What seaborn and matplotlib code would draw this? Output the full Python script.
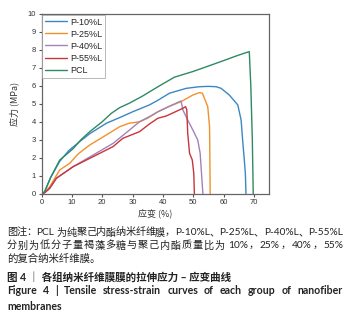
import matplotlib
matplotlib.use("Agg")
import matplotlib.pyplot as plt
import pandas as pd
import seaborn as sb

# stress-strain curves
names = ["P-10%L", "P-25%L", "P-40%L", "P-55%L", "PCL"]
colors = ["#3b87c4", "#f0922b", "#a283b8", "#c8353b", "#2e8a62"]

x_10 = [0, 1, 3, 6, 9, 12.6, 16, 21.4, 26, 30.1, 35.6, 38.4, 42.2, 47.7, 52, 55,
        57.6, 59.2, 61.9, 64.7, 65.8, 66.3, 66.8, 67.2, 67.4]
y_10 = [0, 0.1, 0.9, 1.8, 2.4, 2.9, 3.35, 3.92, 4.25, 4.56, 4.94, 5.2, 5.59, 5.86,
        5.95, 5.97, 5.95, 5.86, 5.49, 4.94, 4.1, 2.99, 2.0, 1.13, 0]

x_25 = [0, 1, 2.7, 6, 9.3, 12, 15.9, 21.4, 25.8, 28.9, 32.3, 35, 38.4, 42, 46,
        49.9, 52, 53, 53.7, 54.8, 55.4, 55.5, 55.6]
y_25 = [0, 0.05, 0.39, 1.32, 1.69, 2.2, 2.71, 3.27, 3.73, 3.92, 4.0, 4.2, 4.56,
        4.85, 5.12, 5.49, 5.62, 5.6, 5.31, 4.84, 3.73, 2.0, 0]

x_40 = [0, 1, 2.7, 4.9, 10.4, 17, 23.6, 29, 32.3, 35.6, 38.4, 42, 46, 46.6, 48.2,
        49.9, 51.5, 52.3, 52.6, 53.2]
y_40 = [0, 0.05, 0.3, 0.86, 1.5, 2.15, 2.8, 3.54, 4.0, 4.29, 4.56, 4.85, 5.16,
        4.66, 4.1, 3.54, 2.99, 2.25, 1.5, 0]

x_55 = [0, 1, 2.7, 4.9, 10.4, 17, 23.6, 26.8, 32.3, 35.6, 38.4, 41.1, 46.6, 47.5,
        47.9, 48.2, 48.8, 49.7, 50.2, 50.4]
y_55 = [0, 0.05, 0.3, 0.86, 1.5, 2.06, 2.62, 3.08, 3.45, 3.88, 4.2, 4.32, 4.75,
        4.84, 4.66, 3.36, 2.25, 1.88, 1.13, 0]

x_pcl = [0, 1, 3, 6, 10.4, 13, 15.9, 20, 23, 25.8, 28.9, 33, 38.4, 43.8, 50, 55,
         60, 64, 67.5, 68.5, 69, 69.5, 69.8]
y_pcl = [0, 0.1, 0.9, 1.87, 2.5, 3.0, 3.45, 4.0, 4.47, 4.79, 5.03, 5.4, 5.95,
         6.48, 6.8, 7.1, 7.4, 7.65, 7.85, 7.9, 6.0, 3.0, 0]

xs = [x_10, x_25, x_40, x_55, x_pcl]
ys = [y_10, y_25, y_40, y_55, y_pcl]

# caption lines: text, weight, size, justify mode (None / "chars" / "words")
caption = [
    ("图注：PCL 为纯聚己内酯纳米纤维膜，P-10%L、P-25%L、P-40%L、P-55%L", "normal", 7.3, "chars"),
    ("分别为低分子量褐藻多糖与聚己内酯质量比为 10%，25%，40%，55%", "normal", 7.3, "chars"),
    ("的复合纳米纤维膜。", "normal", 7.5, None),
    ("图 4 ｜ 各组纳米纤维膜膜的拉伸应力 – 应变曲线", "bold", 7.6, None),
    ("Figure 4 | Tensile stress-strain curves of each group of nanofiber", "bold", 7.6, "words"),
    ("membranes", "bold", 7.6, None),
]

rows = []
for name, xv, yv in zip(names, xs, ys):
    for i, (a, b) in enumerate(zip(xv, yv)):
        rows.append({"strain": a, "stress": b, "group": name, "order": i})
df = pd.DataFrame(rows)

sb.set_style("white")
plt.rcParams["font.family"] = ["Liberation Sans", "Noto Sans CJK SC", "DejaVu Sans"]

fig = plt.figure(figsize=(3.5, 3.16), dpi=100)
ax = fig.add_axes([0.1186, 0.387, 0.65, 0.569])

sb.lineplot(data=df, x="strain", y="stress", hue="group", hue_order=names,
            palette=colors, sort=False, estimator=None, units="group",
            linewidth=1.0, ax=ax)

ax.set_xlim(0, 75)
ax.set_ylim(0, 10)
ax.set_xticks(range(0, 80, 10))
ax.set_yticks(range(0, 11))
ax.tick_params(labelsize=5.5, length=2.5, width=0.8, color="#555555",
               labelcolor="#333333", pad=1.5, direction="out", bottom=True, left=True)
for s in ax.spines.values():
    s.set_color("#666666")
    s.set_linewidth(0.9)

ax.set_xlabel("应变 (%)", fontsize=6.5, color="#333333", labelpad=2,
              family=["Noto Sans CJK SC", "Liberation Sans"])
ax.set_ylabel("应力 (MPa)", fontsize=6.5, color="#333333", labelpad=6,
              family=["Noto Sans CJK SC", "Liberation Sans"])

leg = ax.legend(loc="upper left", fontsize=6.5, frameon=True, fancybox=False,
                borderpad=0.3, handlelength=2.45, handletextpad=0.35,
                labelspacing=0.34, borderaxespad=0.1)
leg.get_frame().set_edgecolor("#999999")
leg.get_frame().set_linewidth(0.6)

# caption, some lines spread over the full width
fig.canvas.draw()
r = fig.canvas.get_renderer()
x0, x1 = 7, 343
ypos = [232.5, 245.5, 259, 277.5, 291, 306]
cfam = ["Lato", "Noto Sans CJK SC", "DejaVu Sans"]
for (txt, w, fs, mode), yp in zip(caption, ypos):
    yf = 1 - yp / 316
    if mode is None:
        fig.text(x0 / 350, yf, txt, fontsize=fs, weight=w, va="center",
                 ha="left", color="#222222", family=cfam)
        continue
    toks = []
    cur = ""
    for ch in txt:
        if ch == " ":
            if cur:
                toks.append(cur)
                cur = ""
            if mode == "chars":
                toks.append(" ")
        elif ord(ch) > 0x2000 and mode == "chars":
            if cur:
                toks.append(cur)
                cur = ""
            toks.append(ch)
        else:
            cur += ch
    if cur:
        toks.append(cur)
    arts, widths = [], []
    for t in toks:
        if t == " ":
            arts.append(None)
            widths.append(2.5)
            continue
        a = fig.text(0, yf, t, fontsize=fs, weight=w, va="center", ha="left",
                     color="#222222", family=cfam)
        arts.append(a)
        widths.append(a.get_window_extent(r).width)
    gap = (x1 - x0 - sum(widths)) / (len(toks) - 1)
    xp = x0
    for a, wd in zip(arts, widths):
        if a is not None:
            a.set_x(xp / 350)
        xp += wd + gap

plt.savefig("out.png", dpi=100)
